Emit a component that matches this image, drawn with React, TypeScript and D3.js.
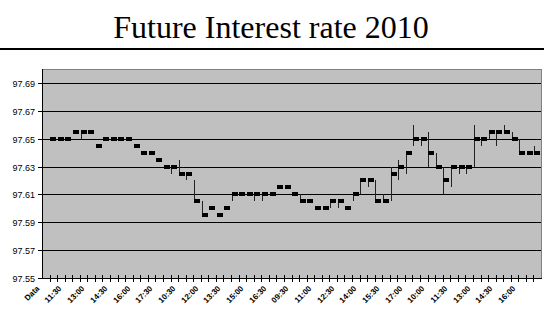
import React, { useRef, useEffect } from "react";
import * as d3 from "d3";

// one category per row; row 0 is the header row ("Data") with no prices
const categoryCount = 66;

const tickLabels = [
  "Data", "11:30", "13:00", "14:30", "16:00", "17:30", "10:30", "12:00",
  "13:30", "15:00", "16:30", "09:30", "11:00", "12:30", "14:00", "15:30",
  "17:00", "10:00", "11:30", "13:00", "14:30", "16:00",
];

const closeValues: (number | null)[] = [
  null,
  97.65, 97.65, 97.65, 97.655, 97.655, 97.655, 97.645, 97.65, 97.65, 97.65,
  97.65, 97.645, 97.64, 97.64, 97.635, 97.63, 97.63, 97.625, 97.625, 97.605,
  97.595, 97.6, 97.595, 97.6, 97.61, 97.61, 97.61, 97.61, 97.61, 97.61,
  97.615, 97.615, 97.61, 97.605, 97.605, 97.6, 97.6, 97.605, 97.605, 97.6,
  97.61, 97.62, 97.62, 97.605, 97.605, 97.625, 97.63, 97.64, 97.65, 97.65,
  97.64, 97.63, 97.62, 97.63, 97.63, 97.63, 97.65, 97.65, 97.655, 97.655,
  97.655, 97.65, 97.64, 97.64, 97.64,
];

const highValues: (number | null)[] = [
  null,
  97.65, 97.65, 97.65, 97.655, 97.655, 97.655, 97.645, 97.65, 97.65, 97.65,
  97.65, 97.645, 97.64, 97.64, 97.635, 97.63, 97.63, 97.635, 97.625, 97.62,
  97.605, 97.6, 97.595, 97.6, 97.61, 97.61, 97.61, 97.61, 97.61, 97.61,
  97.615, 97.615, 97.61, 97.61, 97.605, 97.6, 97.6, 97.605, 97.605, 97.6,
  97.61, 97.62, 97.62, 97.62, 97.61, 97.63, 97.635, 97.64, 97.66, 97.65,
  97.655, 97.64, 97.63, 97.63, 97.63, 97.63, 97.66, 97.65, 97.655, 97.655,
  97.66, 97.655, 97.65, 97.64, 97.645,
];

const lowValues: (number | null)[] = [
  null,
  97.65, 97.65, 97.65, 97.655, 97.65, 97.655, 97.645, 97.65, 97.65, 97.65,
  97.65, 97.645, 97.64, 97.64, 97.635, 97.63, 97.625, 97.625, 97.62, 97.605,
  97.595, 97.6, 97.595, 97.6, 97.605, 97.61, 97.61, 97.605, 97.605, 97.61,
  97.615, 97.615, 97.61, 97.605, 97.605, 97.6, 97.6, 97.6, 97.6, 97.6,
  97.605, 97.61, 97.615, 97.605, 97.605, 97.605, 97.62, 97.625, 97.645, 97.645,
  97.63, 97.63, 97.61, 97.615, 97.625, 97.625, 97.63, 97.645, 97.65, 97.645,
  97.655, 97.65, 97.64, 97.64, 97.64,
];

const yTicks = [97.55, 97.57, 97.59, 97.61, 97.63, 97.65, 97.67, 97.69];

const width = 544;
const height = 317;
const plot = { left: 42, right: 541, top: 69, bottom: 278 };

export default function App() {
  const chartRef = useRef<SVGSVGElement>(null);

  useEffect(() => {
    const svg = d3.select(chartRef.current);
    svg.selectAll("*").remove();

    const categories = d3.range(categoryCount);
    const x = d3
      .scaleBand<number>()
      .domain(categories)
      .range([plot.left, plot.right])
      .padding(0);
    const y = d3
      .scaleLinear()
      .domain([97.55, 97.7])
      .range([plot.bottom, plot.top]);
    const cx = (i: number) => Math.round(x(i)! + x.bandwidth() / 2);
    const py = (v: number) => Math.round(y(v));

    // title and the rule below it
    svg
      .append("text")
      .attr("x", width / 2 - 1)
      .attr("y", 38)
      .attr("text-anchor", "middle")
      .style("font-family", "'Liberation Serif', 'Times New Roman', serif")
      .style("font-size", "32px")
      .text("Future Interest rate 2010");
    svg
      .append("rect")
      .attr("x", 0)
      .attr("y", 48)
      .attr("width", width)
      .attr("height", 2)
      .attr("fill", "#000");

    // plot area
    svg
      .append("rect")
      .attr("x", plot.left + 0.5)
      .attr("y", plot.top + 0.5)
      .attr("width", plot.right - plot.left)
      .attr("height", plot.bottom - plot.top)
      .attr("fill", "#c0c0c0")
      .attr("stroke", "#808080");

    // gridlines + y axis
    const yAxis = svg.append("g");
    yTicks.forEach((t) => {
      const yy = py(t) + 0.5;
      if (t > 97.55) {
        yAxis
          .append("line")
          .attr("x1", plot.left)
          .attr("x2", plot.right)
          .attr("y1", yy)
          .attr("y2", yy)
          .attr("stroke", "#000");
      }
      yAxis
        .append("line")
        .attr("x1", plot.left - 4)
        .attr("x2", plot.left)
        .attr("y1", yy)
        .attr("y2", yy)
        .attr("stroke", "#000");
      yAxis
        .append("text")
        .attr("x", plot.left - 7)
        .attr("y", yy)
        .attr("dy", "0.35em")
        .attr("text-anchor", "end")
        .style("font-family", "'Liberation Sans', Arial, sans-serif")
        .style("font-size", "9px")
        .text(t.toFixed(2));
    });
    yAxis
      .append("line")
      .attr("x1", plot.left + 0.5)
      .attr("x2", plot.left + 0.5)
      .attr("y1", plot.top)
      .attr("y2", plot.bottom + 1)
      .attr("stroke", "#000");

    // x axis with cross ticks between categories
    const xAxis = svg.append("g");
    xAxis
      .append("line")
      .attr("x1", plot.left)
      .attr("x2", plot.right + 1)
      .attr("y1", plot.bottom + 0.5)
      .attr("y2", plot.bottom + 0.5)
      .attr("stroke", "#000");
    categories.slice(1).forEach((i) => {
      const xx = Math.round(x(i)!) + 0.5;
      xAxis
        .append("line")
        .attr("x1", xx)
        .attr("x2", xx)
        .attr("y1", plot.bottom - 3)
        .attr("y2", plot.bottom + 4)
        .attr("stroke", "#000");
    });
    tickLabels.forEach((label, k) => {
      const i = k * 3;
      xAxis
        .append("text")
        .attr("transform", `translate(${cx(i) - 8},${plot.bottom + 9}) rotate(-45)`)
        .attr("text-anchor", "end")
        .attr("dy", "0.35em")
        .style("font-family", "'Liberation Sans', Arial, sans-serif")
        .style("font-size", "8px")
        .style("font-weight", "bold")
        .text(label);
    });

    // high-low lines and close markers
    const points = categories.filter((i) => closeValues[i] != null);
    svg
      .append("g")
      .selectAll("line")
      .data(points.filter((i) => highValues[i]! !== lowValues[i]!))
      .join("line")
      .attr("x1", (i) => cx(i) - 2.5)
      .attr("x2", (i) => cx(i) - 2.5)
      .attr("y1", (i) => py(highValues[i]!))
      .attr("y2", (i) => py(lowValues[i]!))
      .attr("stroke", "#222")
      .attr("stroke-width", 1);
    svg
      .append("g")
      .selectAll("rect")
      .data(points)
      .join("rect")
      .attr("x", (i) => cx(i) - 3)
      .attr("y", (i) => py(closeValues[i]!) - 2)
      .attr("width", 6)
      .attr("height", 4)
      .attr("fill", "#000");
  }, []);

  return (
    <svg
      ref={chartRef}
      width={width}
      height={height}
      style={{ position: "absolute", left: 0, top: 0, background: "#fff" }}
    />
  );
}
